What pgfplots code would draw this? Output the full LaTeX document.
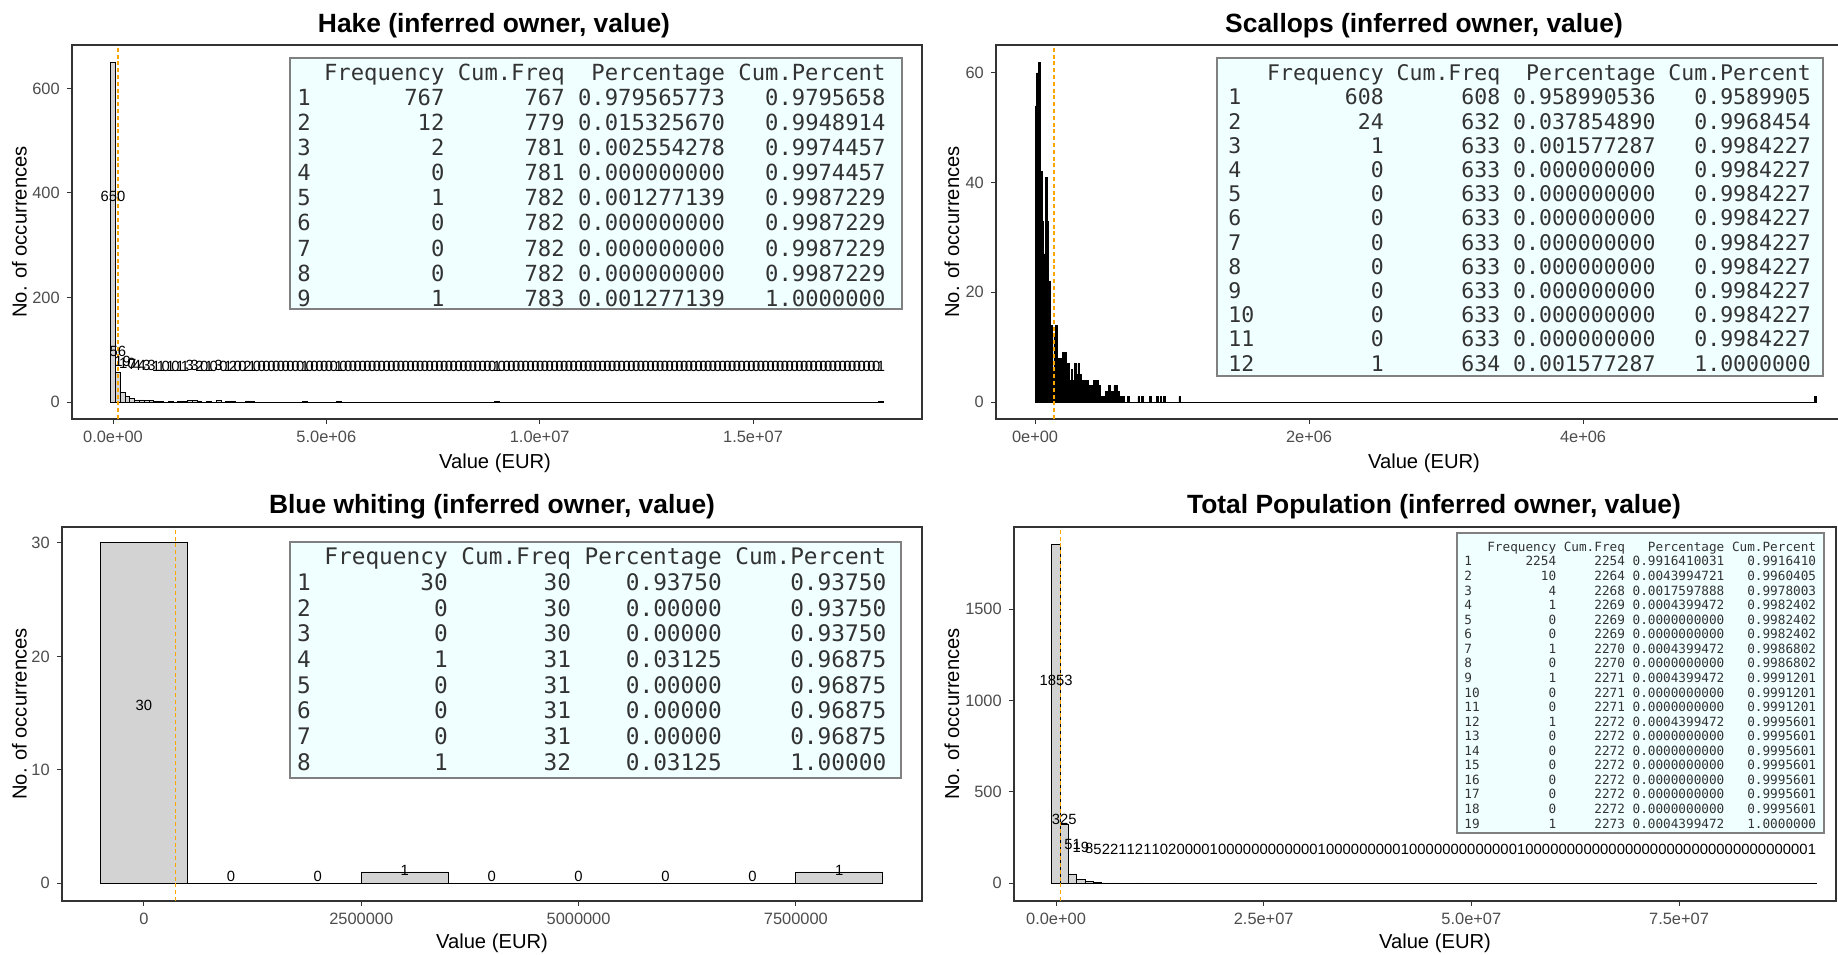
\documentclass[border=0pt]{standalone}
\usepackage{pgfplots}
\usepackage{pgfplotstable}
\pgfplotsset{compat=1.18}
\usepackage{fontspec}
\setmainfont{Liberation Sans}
\newfontfamily\monofont{DejaVu Sans Mono}
\definecolor{gtick}{HTML}{4D4D4D}
\definecolor{gframe}{HTML}{333333}
\definecolor{barfill}{HTML}{D3D3D3}
\definecolor{tabfill}{HTML}{F0FFFF}
\definecolor{tabframe}{HTML}{808080}
\definecolor{tabtext}{HTML}{333333}
\definecolor{vline}{HTML}{FFA500}
\newlength\cw
\newcommand\tabfont[2]{\monofont\fontsize{#1}{#2}\selectfont\settowidth{\cw}{0}}

% bin index k, count c  (x values in million EUR)
\pgfplotstableread[row sep=\\]{
k c\\
0 650\\1 56\\2 19\\3 10\\4 7\\5 4\\6 4\\7 3\\8 3\\9 1\\
10 1\\11 0\\12 1\\13 0\\14 1\\15 1\\16 3\\17 3\\18 2\\19 0\\
20 1\\21 0\\22 3\\23 0\\24 1\\25 2\\26 0\\27 0\\28 2\\29 1\\
30 0\\31 0\\32 0\\33 0\\34 0\\35 0\\36 0\\37 0\\38 0\\39 0\\
40 1\\41 0\\42 0\\43 0\\44 0\\45 0\\46 0\\47 1\\48 0\\49 0\\
50 0\\51 0\\52 0\\53 0\\54 0\\55 0\\56 0\\57 0\\58 0\\59 0\\
60 0\\61 0\\62 0\\63 0\\64 0\\65 0\\66 0\\67 0\\68 0\\69 0\\
70 0\\71 0\\72 0\\73 0\\74 0\\75 0\\76 0\\77 0\\78 0\\79 0\\
80 1\\81 0\\82 0\\83 0\\84 0\\85 0\\86 0\\87 0\\88 0\\89 0\\
90 0\\91 0\\92 0\\93 0\\94 0\\95 0\\96 0\\97 0\\98 0\\99 0\\
100 0\\101 0\\102 0\\103 0\\104 0\\105 0\\106 0\\107 0\\108 0\\109 0\\
110 0\\111 0\\112 0\\113 0\\114 0\\115 0\\116 0\\117 0\\118 0\\119 0\\
120 0\\121 0\\122 0\\123 0\\124 0\\125 0\\126 0\\127 0\\128 0\\129 0\\
130 0\\131 0\\132 0\\133 0\\134 0\\135 0\\136 0\\137 0\\138 0\\139 0\\
140 0\\141 0\\142 0\\143 0\\144 0\\145 0\\146 0\\147 0\\148 0\\149 0\\
150 0\\151 0\\152 0\\153 0\\154 0\\155 0\\156 0\\157 0\\158 0\\159 0\\
160 1\\
}\hake

\pgfplotstableread[row sep=\\]{
k c\\
0 54\\1 60\\2 62\\3 42\\4 33\\5 27\\6 41\\7 33\\8 22\\9 14\\
10 6\\11 12\\12 14\\13 8\\14 8\\15 8\\16 9\\17 9\\18 7\\19 7\\
20 4\\21 6\\22 4\\23 7\\24 5\\25 7\\26 5\\27 4\\28 4\\29 4\\
30 4\\31 3\\32 3\\33 3\\34 4\\35 4\\36 4\\37 3\\38 1\\39 1\\
40 1\\41 2\\42 2\\43 3\\44 2\\45 2\\46 3\\47 3\\48 2\\49 1\\
50 1\\51 1\\54 1\\60 1\\62 1\\67 1\\71 1\\73 1\\75 1\\84 1\\455 1\\
}\scallops

\pgfplotstableread[row sep=\\]{
k c\\
0 30\\1 0\\2 0\\3 1\\4 0\\5 0\\6 0\\7 0\\8 1\\
}\bw

\pgfplotstableread[row sep=\\]{
k c\\
0 1853\\1 325\\2 51\\3 19\\4 8\\5 5\\6 2\\7 2\\8 1\\9 1\\
10 2\\11 1\\12 1\\13 0\\14 2\\15 0\\16 0\\17 0\\18 0\\19 1\\
20 0\\21 0\\22 0\\23 0\\24 0\\25 0\\26 0\\27 0\\28 0\\29 0\\
30 0\\31 0\\32 1\\33 0\\34 0\\35 0\\36 0\\37 0\\38 0\\39 0\\
40 0\\41 0\\42 1\\43 0\\44 0\\45 0\\46 0\\47 0\\48 0\\49 0\\
50 0\\51 0\\52 0\\53 0\\54 0\\55 0\\56 1\\57 0\\58 0\\59 0\\
60 0\\61 0\\62 0\\63 0\\64 0\\65 0\\66 0\\67 0\\68 0\\69 0\\
70 0\\71 0\\72 0\\73 0\\74 0\\75 0\\76 0\\77 0\\78 0\\79 0\\
80 0\\81 0\\82 0\\83 0\\84 0\\85 0\\86 0\\87 0\\88 0\\89 0\\
90 0\\91 1\\
}\total

\pgfplotsset{
  panel/.style={
    scale only axis, anchor=south west, height=187pt,
    axis line style={gframe, line width=0.6pt},
    tick style={gframe, line width=0.5pt},
    tick align=outside, major tick length=2.6pt, tick pos=left,
    ticklabel style={font=\fontsize{8.2}{9.8}\selectfont, text=gtick},
    scaled ticks=false,
  },
  histbar/.style={ybar, bar shift=0pt, fill=barfill, draw=black, line width=0.4pt},
  cntlabel/.style={draw=none, mark=none, nodes near coords, point meta=explicit symbolic,
    every node near coord/.append style={anchor=center, inner sep=0pt,
      font=\fontsize{7.4}{8}\selectfont, text=black}},
  medline/.style={vline, line width=0.65pt, dash pattern=on 2pt off 1.4pt},
}

\begin{document}
\begin{tikzpicture}
\useasboundingbox (0,0) rectangle (919pt,-477pt);
\fill[white] (0,0) rectangle (919pt,-477pt);

% ---------- Hake ----------
\begin{axis}[panel, at={(36pt,-209.5pt)}, width=425pt,
  xmin=-0.961, xmax=18.96, ymin=-32.5, ymax=683,
  xtick={0,5,10,15}, xticklabels={0.0e+00,5.0e+06,1.0e+07,1.5e+07},
  ytick={0,200,400,600}, yticklabels={0,200,400,600}]
\addplot[histbar, bar width=0.1125] table[x expr=\thisrow{k}*0.1125, y=c] {\hake};
\addplot[medline] coordinates {(0.12,-32.5) (0.12,683)};
\addplot[cntlabel] table[x expr=\thisrow{k}*0.1125, y expr=\thisrow{c}/2+68, meta=c] {\hake};
\end{axis}

% ---------- Scallops ----------
\begin{axis}[panel, at={(498pt,-209.5pt)}, width=423pt,
  xmin=-0.285, xmax=5.89, ymin=-3.1, ymax=65.1,
  xtick={0,2,4}, xticklabels={0e+00,2e+06,4e+06},
  ytick={0,20,40,60}, yticklabels={0,20,40,60}]
\addplot[black, line width=0.4pt] coordinates {(0,0) (5.69,0)};
\addplot[histbar, fill=black, line width=0.3pt, bar width=0.0125] table[x expr=\thisrow{k}*0.0125+0.00625, y=c] {\scallops};
\addplot[medline] coordinates {(0.139,-3.1) (0.139,65.1)};
\end{axis}

% ---------- Blue whiting ----------
\begin{axis}[panel, at={(31pt,-450.5pt)}, width=430pt,
  xmin=-0.943, xmax=8.951, ymin=-1.56, ymax=31.4,
  xtick={0,2.5,5,7.5}, xticklabels={0,2500000,5000000,7500000},
  ytick={0,10,20,30}, yticklabels={0,10,20,30}]
\addplot[histbar, bar width=1] table[x=k, y=c] {\bw};
\addplot[medline] coordinates {(0.365,-1.56) (0.365,31.4)};
\addplot[cntlabel] table[x=k, y expr=\thisrow{c}/2+0.65, meta=c] {\bw};
\end{axis}

% ---------- Total Population ----------
\begin{axis}[panel, at={(507pt,-450.5pt)}, width=411pt,
  xmin=-5.06, xmax=93.9, ymin=-97, ymax=1950,
  xtick={0,25,50,75}, xticklabels={0.0e+00,2.5e+07,5.0e+07,7.5e+07},
  ytick={0,500,1000,1500}, yticklabels={0,500,1000,1500}]
\addplot[histbar, bar width=1] table[x=k, y=c] {\total};
\addplot[medline] coordinates {(0.55,-97) (0.55,1950)};
\addplot[cntlabel] table[x=k, y expr=\thisrow{c}/2+185, meta=c] {\total};
\end{axis}

\begin{scope}[x=0.5pt,y=-0.5pt]
% titles
\begin{scope}[every node/.style={anchor=base, inner sep=0pt, font=\fontsize{13.2}{15}\selectfont\bfseries}]
\node at (494,32) {Hake (inferred owner, value)};
\node at (1424,32) {Scallops (inferred owner, value)};
\node at (492,513) {Blue whiting (inferred owner, value)};
\node at (1434,513) {Total Population (inferred owner, value)};
\end{scope}
% axis titles
\begin{scope}[every node/.style={inner sep=0pt, font=\fontsize{10.1}{12}\selectfont}]
\node[anchor=base] at (495,468) {Value (EUR)};
\node[anchor=base] at (1424,468) {Value (EUR)};
\node[anchor=base] at (492,948) {Value (EUR)};
\node[anchor=base] at (1435,948) {Value (EUR)};
\node[rotate=90] at (19.5,232) {No. of occurrences};
\node[rotate=90] at (952,232) {No. of occurrences};
\node[rotate=90] at (19.5,714) {No. of occurrences};
\node[rotate=90] at (952,714) {No. of occurrences};
\end{scope}

% ---------- tables ----------
\draw[tabframe, fill=tabfill, line width=0.6pt] (290,58) rectangle (902,309);
\node[anchor=north west, inner sep=0pt, text=tabtext] at (297,62.4) {\tabfont{11.1}{12.55}%
\begin{tabular}{@{}l@{\hspace{\cw}}r@{\hspace{\cw}}r@{\hspace{\cw}}r@{\hspace{\cw}}r@{}}
 & Frequency & Cum.Freq & Percentage & Cum.Percent\\
1 & 767 & 767 & 0.979565773 & 0.9795658\\
2 & 12 & 779 & 0.015325670 & 0.9948914\\
3 & 2 & 781 & 0.002554278 & 0.9974457\\
4 & 0 & 781 & 0.000000000 & 0.9974457\\
5 & 1 & 782 & 0.001277139 & 0.9987229\\
6 & 0 & 782 & 0.000000000 & 0.9987229\\
7 & 0 & 782 & 0.000000000 & 0.9987229\\
8 & 0 & 782 & 0.000000000 & 0.9987229\\
9 & 1 & 783 & 0.001277139 & 1.0000000\\
\end{tabular}};

\draw[tabframe, fill=tabfill, line width=0.6pt] (1217,58) rectangle (1823,376);
\node[anchor=north west, inner sep=0pt, text=tabtext] at (1228,63.4) {\tabfont{10.75}{12.1}%
\begin{tabular}{@{}l@{\hspace{\cw}}r@{\hspace{\cw}}r@{\hspace{\cw}}r@{\hspace{\cw}}r@{}}
 & Frequency & Cum.Freq & Percentage & Cum.Percent\\
1 & 608 & 608 & 0.958990536 & 0.9589905\\
2 & 24 & 632 & 0.037854890 & 0.9968454\\
3 & 1 & 633 & 0.001577287 & 0.9984227\\
4 & 0 & 633 & 0.000000000 & 0.9984227\\
5 & 0 & 633 & 0.000000000 & 0.9984227\\
6 & 0 & 633 & 0.000000000 & 0.9984227\\
7 & 0 & 633 & 0.000000000 & 0.9984227\\
8 & 0 & 633 & 0.000000000 & 0.9984227\\
9 & 0 & 633 & 0.000000000 & 0.9984227\\
10 & 0 & 633 & 0.000000000 & 0.9984227\\
11 & 0 & 633 & 0.000000000 & 0.9984227\\
12 & 1 & 634 & 0.001577287 & 1.0000000\\
\end{tabular}};

\draw[tabframe, fill=tabfill, line width=0.6pt] (290,542) rectangle (901,778);
\node[anchor=north west, inner sep=0pt, text=tabtext] at (296.6,546.3) {\tabfont{11.38}{12.85}%
\begin{tabular}{@{}l@{\hspace{\cw}}r@{\hspace{\cw}}r@{\hspace{\cw}}r@{\hspace{\cw}}r@{}}
 & Frequency & Cum.Freq & Percentage & Cum.Percent\\
1 & 30 & 30 & 0.93750 & 0.93750\\
2 & 0 & 30 & 0.00000 & 0.93750\\
3 & 0 & 30 & 0.00000 & 0.93750\\
4 & 1 & 31 & 0.03125 & 0.96875\\
5 & 0 & 31 & 0.00000 & 0.96875\\
6 & 0 & 31 & 0.00000 & 0.96875\\
7 & 0 & 31 & 0.00000 & 0.96875\\
8 & 1 & 32 & 0.03125 & 1.00000\\
\end{tabular}};

\draw[tabframe, fill=tabfill, line width=0.6pt] (1457,533) rectangle (1824,833);
\node[anchor=north west, inner sep=0pt, text=tabtext] at (1464,540.8) {\tabfont{6.35}{7.28}%
\begin{tabular}{@{}l@{\hspace{\cw}}r@{\hspace{\cw}}r@{\hspace{\cw}}r@{\hspace{\cw}}r@{}}
 & Frequency & Cum.Freq & Percentage & Cum.Percent\\
1 & 2254 & 2254 & 0.9916410031 & 0.9916410\\
2 & 10 & 2264 & 0.0043994721 & 0.9960405\\
3 & 4 & 2268 & 0.0017597888 & 0.9978003\\
4 & 1 & 2269 & 0.0004399472 & 0.9982402\\
5 & 0 & 2269 & 0.0000000000 & 0.9982402\\
6 & 0 & 2269 & 0.0000000000 & 0.9982402\\
7 & 1 & 2270 & 0.0004399472 & 0.9986802\\
8 & 0 & 2270 & 0.0000000000 & 0.9986802\\
9 & 1 & 2271 & 0.0004399472 & 0.9991201\\
10 & 0 & 2271 & 0.0000000000 & 0.9991201\\
11 & 0 & 2271 & 0.0000000000 & 0.9991201\\
12 & 1 & 2272 & 0.0004399472 & 0.9995601\\
13 & 0 & 2272 & 0.0000000000 & 0.9995601\\
14 & 0 & 2272 & 0.0000000000 & 0.9995601\\
15 & 0 & 2272 & 0.0000000000 & 0.9995601\\
16 & 0 & 2272 & 0.0000000000 & 0.9995601\\
17 & 0 & 2272 & 0.0000000000 & 0.9995601\\
18 & 0 & 2272 & 0.0000000000 & 0.9995601\\
19 & 1 & 2273 & 0.0004399472 & 1.0000000\\
\end{tabular}};
\end{scope}
\end{tikzpicture}
\end{document}
